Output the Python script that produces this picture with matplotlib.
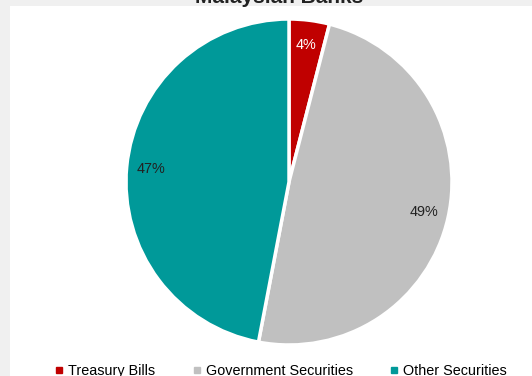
import matplotlib
matplotlib.use("Agg")
import matplotlib.pyplot as plt
from matplotlib.patches import Rectangle
from matplotlib.lines import Line2D

plt.rcParams['font.family'] = ['Liberation Sans', 'DejaVu Sans']

title = "Malaysian Banks"
categories = ["Treasury Bills", "Government Securities", "Other Securities"]
values = [4, 49, 47]
colors = ["#C00000", "#C0C0C0", "#009999"]
label_colors = ["white", "#222222", "#222222"]

W, H = 532, 376
fig = plt.figure(figsize=(W / 100, H / 100), dpi=100, facecolor="#f0f0f0")
fig.patches.append(Rectangle((10 / W, 0), 1 - 10 / W, 1 - 6 / H,
                             transform=fig.transFigure, facecolor="white",
                             edgecolor="none", zorder=-10))

cx, cy, r = 289, 182, 163
ax = fig.add_axes([(cx - r) / W, (H - cy - r) / H, 2 * r / W, 2 * r / H])
ax.set_facecolor("none")
wedges, texts, autotexts = ax.pie(values, colors=colors, startangle=90, counterclock=False,
                                  autopct="%d%%", pctdistance=0.85, radius=1,
                                  wedgeprops=dict(edgecolor="white", linewidth=2.5),
                                  textprops=dict(fontsize=10.4))
for t, c in zip(autotexts, label_colors):
    t.set_color(c)
ax.set_xlim(-1.0, 1.0)
ax.set_ylim(-1.0, 1.0)
ax.set_aspect("equal")
ax.axis("off")

fig.text(279 / W, 1 - 3 / H, title, ha="center", va="baseline",
         fontsize=15, fontweight="bold", color="#222222")

handles = [Line2D([], [], marker="s", linestyle="none", markersize=4,
                  markerfacecolor=c, markeredgecolor=c) for c in colors]
fig.legend(handles, categories, loc="center", bbox_to_anchor=(281 / W, 5 / H),
           ncol=3, frameon=False, fontsize=10.4, handlelength=0.55,
           handletextpad=0.35, columnspacing=2.6)

fig.savefig("out.png", dpi=100, facecolor=fig.get_facecolor())
